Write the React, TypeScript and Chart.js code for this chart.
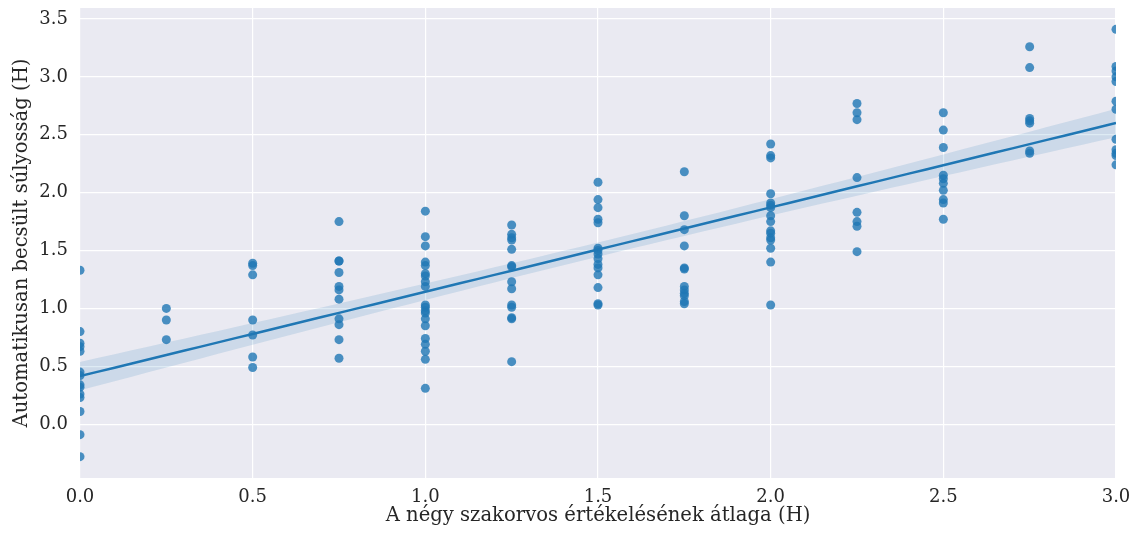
import React, { useEffect, useRef } from "react";
import { Chart, registerables } from "chart.js";

Chart.register(...registerables);

// ---- Data ----
const xLevels = [0, 0.25, 0.5, 0.75, 1.0, 1.25, 1.5, 1.75, 2.0, 2.25, 2.5, 2.75, 3.0];

const y_0_00 = [1.33, 0.80, 0.70, 0.67, 0.63, 0.45, 0.42, 0.34, 0.32, 0.26, 0.23, 0.11, -0.09, -0.28];
const y_0_25 = [1.00, 0.90, 0.73];
const y_0_50 = [1.39, 1.37, 1.29, 0.90, 0.77, 0.58, 0.49];
const y_0_75 = [1.75, 1.41, 1.41, 1.31, 1.19, 1.16, 1.08, 0.91, 0.86, 0.73, 0.57];
const y_1_00 = [1.84, 1.62, 1.54, 1.40, 1.37, 1.30, 1.28, 1.23, 1.19, 1.03, 1.01, 0.98, 0.96, 0.91, 0.85, 0.74, 0.69, 0.63, 0.56, 0.31];
const y_1_25 = [1.72, 1.64, 1.61, 1.59, 1.51, 1.37, 1.36, 1.23, 1.17, 1.03, 1.01, 0.92, 0.91, 0.54];
const y_1_50 = [2.09, 1.94, 1.87, 1.77, 1.74, 1.52, 1.50, 1.47, 1.43, 1.38, 1.35, 1.29, 1.18, 1.04, 1.03];
const y_1_75 = [2.18, 1.80, 1.68, 1.54, 1.35, 1.34, 1.19, 1.16, 1.13, 1.11, 1.06, 1.04];
const y_2_00 = [2.42, 2.32, 2.30, 1.99, 1.91, 1.89, 1.87, 1.80, 1.75, 1.67, 1.65, 1.61, 1.59, 1.52, 1.40, 1.03];
const y_2_25 = [2.77, 2.69, 2.63, 2.13, 1.83, 1.75, 1.71, 1.49];
const y_2_50 = [2.69, 2.54, 2.39, 2.15, 2.12, 2.08, 2.02, 1.94, 1.91, 1.77];
const y_2_75 = [3.26, 3.08, 2.64, 2.62, 2.60, 2.36, 2.34];
const y_3_00 = [3.41, 3.09, 3.05, 3.00, 2.96, 2.79, 2.72, 2.46, 2.37, 2.34, 2.32, 2.24];

const yGroups = [y_0_00, y_0_25, y_0_50, y_0_75, y_1_00, y_1_25, y_1_50, y_1_75, y_2_00, y_2_25, y_2_50, y_2_75, y_3_00];

const xTickValues = [0, 0.5, 1.0, 1.5, 2.0, 2.5, 3.0];
const yTickValues = [0, 0.5, 1.0, 1.5, 2.0, 2.5, 3.0, 3.5];

const xTitle = "A négy szakorvos értékelésének átlaga (H)";
const yTitle = "Automatikusan becsült súlyosság (H)";

// ---- Derived ----
const points = xLevels.flatMap((x, i) => yGroups[i].map((y) => ({ x, y })));

function regression(pts: { x: number; y: number }[]) {
  const n = pts.length;
  const mx = pts.reduce((s, p) => s + p.x, 0) / n;
  const my = pts.reduce((s, p) => s + p.y, 0) / n;
  let sxx = 0, sxy = 0;
  pts.forEach((p) => { sxx += (p.x - mx) ** 2; sxy += (p.x - mx) * (p.y - my); });
  const b = sxy / sxx;
  const a = my - b * mx;
  let sse = 0;
  pts.forEach((p) => { sse += (p.y - a - b * p.x) ** 2; });
  const s = Math.sqrt(sse / (n - 2));
  return { a, b, s, n, mx, sxx };
}

const FONT = "'DejaVu Serif', serif";
const TEXT = "#262626";

export default function App() {
  const ref = useRef<HTMLCanvasElement | null>(null);

  useEffect(() => {
    if (!ref.current) return;
    const reg = regression(points);
    const xmin = Math.min(...xLevels), xmax = Math.max(...xLevels);
    const steps = 60;
    const line: { x: number; y: number }[] = [];
    const upper: { x: number; y: number }[] = [];
    const lower: { x: number; y: number }[] = [];
    const t = 1.976;
    for (let i = 0; i <= steps; i++) {
      const x = xmin + ((xmax - xmin) * i) / steps;
      const yh = reg.a + reg.b * x;
      const se = reg.s * Math.sqrt(1 / reg.n + (x - reg.mx) ** 2 / reg.sxx);
      line.push({ x, y: yh });
      upper.push({ x, y: yh + t * se });
      lower.push({ x, y: yh - t * se });
    }
    const ys = points.map((p) => p.y);
    const ylo = Math.min(...ys), yhi = Math.max(...ys);
    const margin = (yhi - ylo) * 0.05;

    const bgPlugin = {
      id: "plotBg",
      beforeDraw(chart: any) {
        const { ctx, chartArea } = chart;
        ctx.save();
        ctx.fillStyle = "#EAEAF2";
        ctx.fillRect(chartArea.left, chartArea.top, chartArea.right - chartArea.left, chartArea.bottom - chartArea.top);
        ctx.restore();
      },
    };

    const chart = new Chart(ref.current, {
      type: "scatter",
      data: {
        datasets: [
          {
            data: line,
            showLine: true,
            borderColor: "#1f77b4",
            borderWidth: 2.5,
            pointRadius: 0,
            fill: false,
          },
          {
            data: upper,
            showLine: true,
            borderWidth: 0,
            borderColor: "rgba(0,0,0,0)",
            pointRadius: 0,
            backgroundColor: "rgba(31,119,180,0.15)",
            fill: "+1",
          },
          {
            data: lower,
            showLine: true,
            borderWidth: 0,
            borderColor: "rgba(0,0,0,0)",
            pointRadius: 0,
            fill: false,
          },
          {
            data: points,
            pointRadius: 4.5,
            pointBorderWidth: 0,
            pointBackgroundColor: "rgba(31,119,180,0.8)",
            pointBorderColor: "rgba(31,119,180,0.8)",
            clip: 0,
          } as any,
        ],
      },
      options: {
        animation: false,
        responsive: false,
        maintainAspectRatio: false,
        layout: { padding: { top: 8, right: 21, left: 0, bottom: 0 } },
        plugins: { legend: { display: false }, tooltip: { enabled: false } },
        scales: {
          x: {
            type: "linear",
            min: xmin,
            max: xmax,
            afterBuildTicks: (s: any) => { s.ticks = xTickValues.map((v) => ({ value: v })); },
            afterFit: (s: any) => { s.height = 61; s.paddingLeft = 0; s.paddingRight = 0; },
            grid: { color: "#ffffff", lineWidth: 1.2, drawTicks: false },
            border: { display: false },
            ticks: {
              padding: 9,
              color: TEXT,
              font: { family: FONT, size: 18 },
              callback: (v: any) => Number(v).toFixed(1),
            },
            title: {
              display: true,
              text: xTitle,
              color: TEXT,
              font: { family: FONT, size: 19.6 },
              padding: { top: 0, bottom: 11.5 },
            },
          },
          y: {
            type: "linear",
            min: ylo - margin,
            max: yhi + margin,
            afterBuildTicks: (s: any) => { s.ticks = yTickValues.map((v) => ({ value: v })); },
            afterFit: (s: any) => { s.width = 80; s.paddingTop = 0; s.paddingBottom = 0; },
            grid: { color: "#ffffff", lineWidth: 1.2, drawTicks: false },
            border: { display: false },
            ticks: {
              padding: 12,
              color: TEXT,
              font: { family: FONT, size: 18 },
              callback: (v: any) => Number(v).toFixed(1),
            },
            title: {
              display: true,
              text: yTitle,
              color: TEXT,
              font: { family: FONT, size: 19.6 },
              padding: { top: 10, bottom: 0 },
            },
          },
        },
      },
      plugins: [bgPlugin],
    });
    return () => chart.destroy();
  }, []);

  return (
    <div style={{ position: "fixed", left: 0, top: 0, width: 1137, height: 539, background: "#fff" }}>
      <canvas ref={ref} width={1137} height={539} style={{ width: 1137, height: 539, display: "block" }} />
    </div>
  );
}
